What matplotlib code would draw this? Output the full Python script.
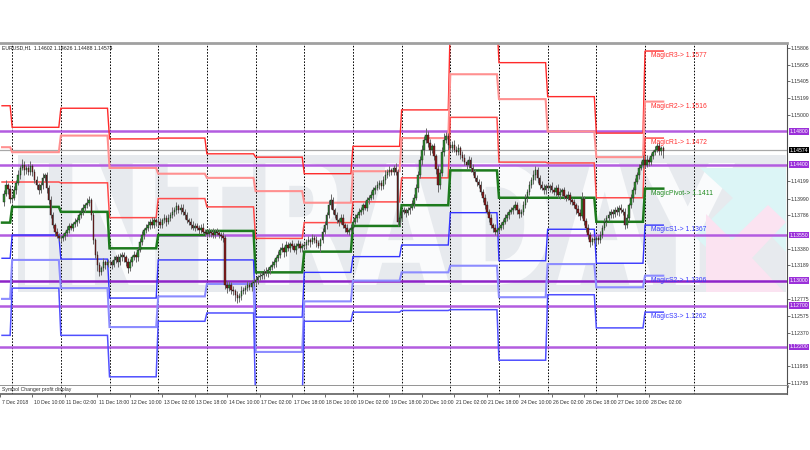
import numpy as np
import matplotlib
matplotlib.use("Agg")
import matplotlib.pyplot as plt
from matplotlib.patches import PathPatch, Polygon, Rectangle
from matplotlib.textpath import TextPath
from matplotlib.font_manager import FontProperties
from matplotlib.transforms import Affine2D, ScaledTranslation, blended_transform_factory

plt.rcParams["font.family"] = ["Liberation Sans", "DejaVu Sans"]

# ---- daily pivot levels, one value per trading day: 7 Dec (tail) .. 28 Dec (today)
R3 = [1.1511, 1.1485, 1.1508, 1.1471, 1.1472, 1.1453, 1.1449, 1.1429, 1.1462,
      1.1506, 1.1613, 1.1563, 1.1522, 1.1478, 1.1577]
R2 = [1.1461, 1.1455, 1.1475, 1.1436, 1.1429, 1.1424, 1.1408, 1.1394, 1.1432,
      1.1472, 1.1549, 1.1519, 1.1480, 1.1449, 1.1516]
R1 = [1.1419, 1.1419, 1.1418, 1.1376, 1.1399, 1.1389, 1.1351, 1.1370, 1.1395,
      1.1424, 1.1497, 1.1443, 1.1442, 1.1400, 1.1472]
PIVOT = [1.1370, 1.1389, 1.1383, 1.1339, 1.1355, 1.1360, 1.1310, 1.1335, 1.1366,
         1.1391, 1.1433, 1.1400, 1.1400, 1.1371, 1.1411]
S1 = [1.1327, 1.1355, 1.1326, 1.1279, 1.1325, 1.1325, 1.1256, 1.1310, 1.1329,
      1.1343, 1.1382, 1.1324, 1.1362, 1.1321, 1.1367]
S2 = [1.1278, 1.1325, 1.1291, 1.1244, 1.1281, 1.1296, 1.1214, 1.1275, 1.1300,
      1.1310, 1.1318, 1.1280, 1.1320, 1.1292, 1.1306]
S3 = [1.1234, 1.1291, 1.1234, 1.1184, 1.1251, 1.1261, 1.1156, 1.1251, 1.1262,
      1.1264, 1.1265, 1.1204, 1.1283, 1.1243, 1.1262]
MAGIC_NAMES = ["MagicR3", "MagicR2", "MagicR1", "MagicPivot", "MagicS1", "MagicS2", "MagicS3"]

# horizontal levels drawn by hand on the chart
H_LEVELS = [1.14800, 1.14400, 1.13550, 1.13000, 1.12700, 1.12200]
LAST_PRICE = 1.14574

# ---- EURUSD H1 candles, closes in pips above 1.1200 (open = previous close)
FIRST_OPEN = 195
C_07 = [205, 215, 210, 198]
C_10 = [200, 209, 218, 227, 236, 240, 233, 236, 231, 238, 231, 221, 215, 209, 215, 224, 227, 212, 197, 179, 167, 159, 154, 152]
C_11 = [151, 154, 157, 161, 166, 164, 168, 171, 173, 179, 183, 188, 191, 194, 197, 179, 149, 131, 119, 111, 115, 122, 119, 122]
C_12 = [122, 119, 125, 128, 122, 128, 131, 128, 122, 115, 122, 128, 131, 128, 137, 147, 155, 161, 164, 167, 171, 167, 173, 171]
C_13 = [171, 167, 173, 176, 171, 176, 179, 183, 185, 190, 185, 188, 183, 179, 173, 171, 167, 164, 166, 164, 161, 164, 159, 158]
C_14 = [156, 159, 158, 155, 159, 158, 155, 154, 151, 95, 91, 95, 89, 87, 83, 79, 81, 87, 89, 91, 95, 92, 97, 98]
C_17 = [101, 104, 106, 107, 111, 109, 113, 116, 119, 122, 127, 131, 137, 139, 134, 143, 139, 144, 142, 137, 142, 144, 139, 142]
C_18 = [143, 147, 149, 147, 152, 149, 145, 142, 149, 159, 167, 179, 191, 197, 185, 179, 173, 171, 176, 167, 164, 159, 161, 164]
C_19 = [171, 176, 179, 183, 185, 191, 188, 197, 200, 203, 209, 212, 215, 218, 214, 221, 227, 231, 233, 231, 236, 231, 171, 176]
C_20 = [183, 185, 182, 185, 188, 192, 200, 212, 228, 245, 258, 270, 276, 266, 258, 262, 250, 235, 215, 230, 255, 270, 274, 264]
C_21 = [260, 264, 258, 255, 260, 252, 248, 243, 240, 246, 236, 231, 224, 219, 215, 207, 200, 191, 183, 176, 167, 164, 159, 161]
C_24 = [164, 167, 171, 176, 179, 183, 185, 188, 191, 185, 180, 183, 191, 200, 207, 215, 221, 227, 233, 224, 215, 212, 209, 214]
C_26 = [212, 214, 209, 207, 212, 203, 207, 209, 202, 200, 203, 197, 195, 191, 186, 182, 178, 198, 172, 163, 155, 147, 150, 149]
C_27 = [151, 149, 155, 164, 171, 176, 179, 183, 180, 185, 183, 188, 185, 183, 167, 176, 191, 200, 209, 219, 227, 236, 240, 246]
C_28 = [240, 246, 243, 250, 255, 258, 262, 256, 260, 257]

# wick lengths in pips above / below the body
UW = [[4, 6, 3, 5],
      [3, 5, 4, 6, 3, 7, 4, 3, 5, 6, 3, 4, 5, 3, 4, 6, 3, 4, 3, 5, 4, 3, 4, 3],
      [3, 4, 3, 5, 3, 4, 3, 5, 4, 3, 5, 4, 3, 6, 5, 3, 4, 3, 5, 4, 3, 5, 3, 4],
      [4, 3, 5, 3, 4, 5, 3, 4, 3, 5, 4, 3, 5, 4, 3, 4, 5, 3, 4, 5, 3, 6, 4, 3],
      [4, 5, 3, 4, 3, 5, 4, 6, 4, 5, 3, 4, 5, 3, 4, 3, 4, 5, 3, 4, 3, 4, 5, 3],
      [3, 4, 3, 5, 3, 4, 3, 4, 5, 4, 5, 4, 3, 4, 3, 5, 4, 6, 3, 4, 5, 3, 4, 5],
      [4, 3, 5, 4, 3, 5, 4, 3, 5, 4, 3, 5, 4, 6, 3, 5, 4, 3, 5, 4, 3, 5, 4, 3],
      [4, 3, 5, 3, 4, 3, 5, 4, 3, 4, 5, 4, 6, 7, 4, 3, 4, 3, 5, 4, 3, 4, 3, 4],
      [3, 4, 3, 5, 4, 3, 5, 4, 3, 5, 4, 3, 5, 4, 3, 5, 6, 4, 5, 3, 4, 6, 4, 3],
      [3, 4, 3, 4, 3, 5, 4, 5, 4, 5, 6, 5, 8, 4, 5, 3, 4, 3, 4, 5, 6, 8, 5, 4],
      [5, 4, 6, 4, 5, 3, 4, 5, 3, 4, 3, 5, 4, 3, 4, 5, 3, 4, 5, 3, 4, 3, 4, 3],
      [3, 4, 3, 5, 4, 3, 4, 3, 5, 4, 3, 4, 5, 4, 3, 5, 4, 6, 5, 4, 3, 5, 4, 3],
      [4, 3, 5, 4, 3, 4, 5, 3, 4, 3, 5, 4, 3, 4, 3, 5, 4, 9, 4, 3, 5, 4, 3, 4],
      [3, 4, 5, 3, 4, 3, 5, 4, 3, 4, 5, 3, 4, 3, 5, 4, 3, 5, 4, 5, 4, 5, 4, 5],
      [4, 5, 3, 4, 3, 5, 4, 5, 3, 3]]
LW = [[5, 3, 6, 4],
      [4, 3, 5, 3, 4, 3, 6, 4, 3, 4, 5, 3, 4, 5, 3, 4, 4, 6, 5, 4, 3, 5, 3, 4],
      [4, 3, 5, 3, 4, 3, 4, 3, 5, 4, 3, 4, 5, 3, 4, 6, 5, 4, 7, 5, 4, 3, 5, 3],
      [3, 5, 3, 4, 6, 3, 4, 5, 4, 6, 3, 4, 3, 5, 4, 3, 4, 5, 3, 4, 5, 3, 4, 5],
      [5, 3, 4, 3, 5, 3, 4, 3, 5, 4, 3, 5, 4, 5, 3, 4, 5, 3, 4, 3, 5, 4, 3, 4],
      [4, 3, 5, 3, 4, 3, 4, 5, 4, 5, 6, 4, 5, 4, 7, 6, 5, 4, 3, 5, 4, 3, 4, 3],
      [3, 5, 3, 4, 5, 3, 4, 5, 3, 4, 5, 3, 4, 3, 5, 4, 3, 5, 4, 3, 5, 3, 4, 5],
      [3, 5, 4, 6, 3, 4, 5, 3, 8, 4, 3, 5, 3, 4, 5, 4, 3, 5, 3, 4, 5, 3, 4, 3],
      [4, 3, 5, 3, 4, 5, 3, 4, 5, 3, 4, 5, 3, 4, 5, 3, 4, 3, 5, 4, 3, 4, 5, 4],
      [4, 3, 5, 3, 4, 3, 4, 3, 5, 4, 5, 6, 4, 5, 6, 4, 5, 6, 8, 5, 4, 5, 4, 6],
      [4, 5, 3, 4, 3, 5, 4, 3, 5, 4, 5, 3, 4, 5, 3, 4, 5, 4, 3, 5, 4, 5, 4, 5],
      [4, 3, 5, 3, 4, 5, 3, 4, 3, 5, 4, 3, 4, 3, 5, 4, 3, 4, 5, 6, 4, 3, 5, 4],
      [3, 5, 3, 4, 5, 3, 4, 5, 3, 4, 3, 5, 4, 3, 5, 4, 5, 3, 5, 4, 5, 6, 4, 3],
      [6, 5, 3, 4, 3, 5, 4, 3, 4, 3, 4, 5, 3, 4, 5, 3, 4, 3, 5, 4, 3, 4, 3, 4],
      [4, 3, 5, 4, 3, 4, 3, 4, 5, 9]]

# time axis labels (bar index counted from 10 Dec 00:00, H1)
DATE_TICKS = [-6, 10, 26, 42, 58, 74, 90, 106, 122, 138, 154, 170, 186, 202,
              218, 234, 250, 266, 282, 298, 314]
DATE_LABELS = ["7 Dec 2018", "10 Dec 10:00", "11 Dec 02:00", "11 Dec 18:00",
               "12 Dec 10:00", "13 Dec 02:00", "13 Dec 18:00", "14 Dec 10:00",
               "17 Dec 02:00", "17 Dec 18:00", "18 Dec 10:00", "19 Dec 02:00",
               "19 Dec 18:00", "20 Dec 10:00", "21 Dec 02:00", "21 Dec 18:00",
               "24 Dec 10:00", "26 Dec 02:00", "26 Dec 18:00", "27 Dec 10:00",
               "28 Dec 02:00"]
PRICE_TICKS = [1.15806, 1.15605, 1.15405, 1.15199, 1.15000, 1.14199, 1.13990,
               1.13786, 1.13380, 1.13189, 1.12775, 1.12575, 1.12370, 1.11965, 1.11765]

SMALL = 3.7   # MT4 terminal font is tiny

# ---------------------------------------------------------------------------
W, H = 810, 450
fig = plt.figure(figsize=(W / 100, H / 100), dpi=100)
fig.patch.set_facecolor("white")
ax = fig.add_axes([0, (H - 386) / H, 787 / W, 343 / H])
sub = fig.add_axes([0, (H - 394) / H, 787 / W, 8 / H], sharex=ax)

ax.set_xlim(-4.4, 382.0)
ax.set_ylim(1.11729, 1.15867)


def px(x, y):
    """pixel position inside the chart window -> axes fraction"""
    return (x / 787, (386 - y) / 343)


# watermark: grey band, INTRADAY letters, two arrows
band0, band1 = px(18, 292), px(786, 155)
ax.add_patch(Rectangle(band0, band1[0] - band0[0], band1[1] - band0[1],
                       transform=ax.transAxes, facecolor="#e7eaee", edgecolor="none", zorder=0))
tp = TextPath((0, 0), "INTRADAY", prop=FontProperties(family="DejaVu Sans", weight="bold"))
ext = tp.get_extents()
b0, b1 = px(25, 285), px(735, 163)
tr = (Affine2D().translate(-ext.x0, -ext.y0)
      .scale((b1[0] - b0[0]) / ext.width, (b1[1] - b0[1]) / ext.height)
      .translate(b0[0], b0[1]) + ax.transAxes)
ax.add_patch(PathPatch(tp, transform=tr, facecolor="#fafbfc", edgecolor="none", zorder=0.5))
cyan = [(700, 168), (786, 168), (786, 252), (760, 224), (722, 262), (694, 236), (733, 198)]
pink = [(706, 292), (706, 214), (732, 240), (768, 205), (786, 222), (752, 258), (784, 292)]
ax.add_patch(Polygon([px(*p) for p in cyan], closed=True, transform=ax.transAxes,
                     facecolor="#dcf5f6", edgecolor="none", zorder=0.6))
ax.add_patch(Polygon([px(*p) for p in pink], closed=True, transform=ax.transAxes,
                     facecolor="#fbe3f1", edgecolor="none", zorder=0.6))

# day separators
for d in range(0, 15):
    ax.axvline(d * 24, color="black", lw=0.7, ls=(0, (1.6, 1.6)), zorder=1)
    sub.axvline(d * 24, color="black", lw=0.7, ls=(0, (1.6, 1.6)))

# manual levels + current price
for lv in H_LEVELS:
    ax.axhline(lv, color="#8e24c8" if lv == 1.13 else "#b35ce0", lw=1.8, zorder=2)
ax.axhline(LAST_PRICE, color="#a8a8a8", lw=0.9, zorder=2)

# pivot step lines
closes_p = np.concatenate([C_07, C_10, C_11, C_12, C_13, C_14, C_17, C_18, C_19,
                           C_20, C_21, C_24, C_26, C_27, C_28])
n = len(closes_p)
bars = np.arange(-4, -4 + n)
pb = np.arange(-5, bars[-1] + 1)
di = pb // 24 + 1
styles = [("#ff2a2a", 1.0), ("#ff9090", 1.5), ("#ff4c4c", 1.1), ("#1d7a1d", 1.8),
          ("#3434ff", 1.0), ("#8c8cff", 1.5), ("#5050ff", 1.1)]
levels = [R3, R2, R1, PIVOT, S1, S2, S3]
for vals, (col, lw) in zip(levels, styles):
    ax.plot(pb, np.asarray(vals)[di], color=col, lw=lw, zorder=2.5,
            solid_joinstyle="miter")

# candles
closes = 1.12 + closes_p / 1e4
opens = np.r_[1.12 + FIRST_OPEN / 1e4, closes[:-1]]
highs = np.maximum(opens, closes) + np.concatenate(UW) / 1e4
lows = np.minimum(opens, closes) - np.concatenate(LW) / 1e4
ax.vlines(bars, lows, highs, color="#6a6a6a", lw=0.7, zorder=3)
body = closes - opens
body = np.where(np.abs(body) < 0.00002, 0.00002, body)
ax.bar(bars, body, bottom=opens, width=0.75,
       color=np.where(closes >= opens, "#2f8f2f", "#8b1a1a"),
       edgecolor="#1a1a1a", linewidth=0.3, zorder=4)

# labels of today's levels
label_cols = ["#ff3030", "#ff3030", "#ff3030", "#1f8a1f", "#3a3aff", "#3a3aff", "#3a3aff"]
for name, vals, col in zip(MAGIC_NAMES, levels, label_cols):
    ax.annotate(f"{name}-> {vals[-1]:.4f}", (bars[-1] - 7, vals[-1]), xytext=(1.2, -3.2),
                textcoords="offset points", fontsize=4.9, color=col, va="center",
                ha="left", zorder=6)

ax.text(0.002, 0.993, "EURUSD,H1  1.14602 1.14626 1.14488 1.14574", transform=ax.transAxes,
        fontsize=SMALL, va="top", ha="left", color="#202020", zorder=6)

# price scale on the right
ax.yaxis.tick_right()
ax.set_yticks(PRICE_TICKS)
ax.set_yticklabels([f"{v:.5f}" for v in PRICE_TICKS])
ax.tick_params(axis="y", labelsize=SMALL, length=2, width=0.5, pad=0.8, colors="#303030")
ax.tick_params(axis="x", bottom=False, labelbottom=False)
yt = blended_transform_factory(ax.transAxes, ax.transData)
for lv in H_LEVELS:
    ax.text(1.003, lv, f"{lv:.5f}", transform=yt, fontsize=SMALL, color="white",
            va="center", ha="left", clip_on=False, zorder=7,
            bbox=dict(boxstyle="square,pad=0.15", facecolor="#9b30d9", edgecolor="none"))
ax.text(1.003, LAST_PRICE, f"{LAST_PRICE:.5f}", transform=yt, fontsize=SMALL, color="white",
        va="center", ha="left", clip_on=False, zorder=7,
        bbox=dict(boxstyle="square,pad=0.15", facecolor="black", edgecolor="none"))

ax.spines["left"].set_visible(False)
ax.spines["top"].set_color("#a0a0a0")
ax.spines["top"].set_linewidth(2)
ax.spines["bottom"].set_color("#8a8a8a")
ax.spines["bottom"].set_linewidth(2)
ax.spines["right"].set_color("#505050")
ax.spines["right"].set_linewidth(0.8)

# indicator sub-window + time scale
sub.set_ylim(0, 1)
sub.set_yticks([])
sub.spines["left"].set_visible(False)
sub.spines["top"].set_visible(False)
sub.spines["bottom"].set_color("#606060")
sub.spines["bottom"].set_linewidth(1.2)
sub.spines["right"].set_color("#505050")
sub.spines["right"].set_linewidth(0.8)
sub.text(0.002, 0.5, "Symbol Changer profit display", transform=sub.transAxes,
         fontsize=SMALL, va="center", ha="left", color="#303030")
sub.set_xticks(DATE_TICKS)
sub.set_xticklabels(DATE_LABELS, ha="left")
sub.tick_params(axis="x", labelsize=SMALL, length=2.5, width=0.5, pad=1.5, colors="#303030")
offs = ScaledTranslation(1.5 / 100, 0, fig.dpi_scale_trans)
for t in sub.get_xticklabels():
    t.set_transform(t.get_transform() + offs)

fig.savefig("out.png", dpi=100, facecolor="white")
